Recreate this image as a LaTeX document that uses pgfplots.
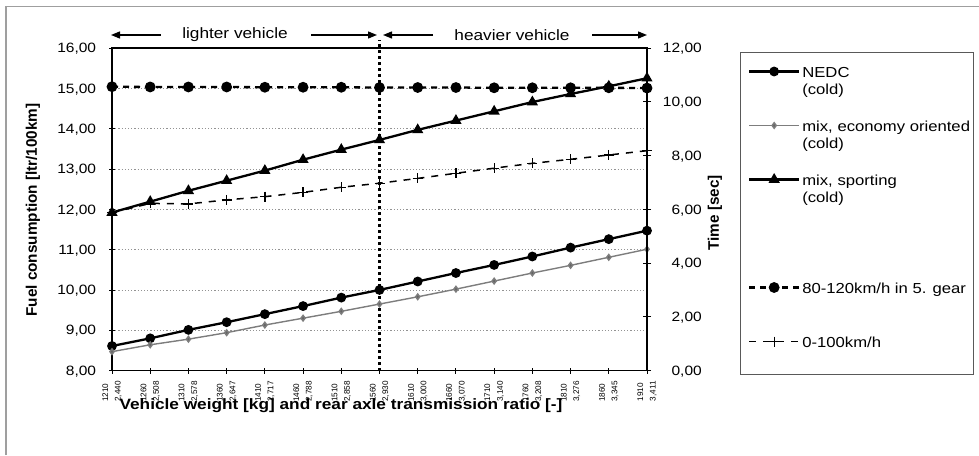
\documentclass[border=0pt]{standalone}
\usepackage{fontspec}
\setmainfont{Liberation Sans}[FakeStretch=1.15]
\newfontfamily\uprightsans{Liberation Sans}
\usepackage{pgfplots}
\usepackage{pgfplotstable}
\pgfplotsset{compat=1.18}
\usetikzlibrary{arrows.meta}

\newcommand\tickfont{\fontsize{13.5}{16}\selectfont}
\newcommand\xtickfont{\uprightsans\fontsize{8.2}{12.6}\selectfont}
\newcommand\legfont{\fontsize{14.5}{17}\selectfont}
\newcommand\notefont{\fontsize{15}{18}\selectfont}
\newcommand\titlefont{\bfseries\fontsize{15}{18}\selectfont}
\newcommand\vtitlefont{\uprightsans\bfseries\fontsize{15.3}{18}\selectfont}

% fuel consumption (ltr/100km) and acceleration times (sec) per vehicle variant
\pgfplotstableread{
idx nedc  eco   sport fifth accel
0   8.61  8.47  11.92 10.56 5.87
1   8.80  8.64  12.19 10.55 6.22
2   9.01  8.78  12.46 10.55 6.20
3   9.20  8.94  12.71 10.55 6.35
4   9.40  9.13  12.96 10.54 6.47
5   9.60  9.30  13.23 10.54 6.63
6   9.81  9.47  13.48 10.54 6.82
7   10.00 9.65  13.72 10.53 6.97
8   10.21 9.83  13.97 10.53 7.15
9   10.42 10.02 14.20 10.53 7.34
10  10.62 10.22 14.43 10.52 7.53
11  10.83 10.42 14.66 10.52 7.71
12  11.05 10.61 14.86 10.52 7.86
13  11.26 10.81 15.05 10.52 8.02
14  11.47 11.01 15.25 10.51 8.18
}\chartdata

\pgfplotsset{
  nedc/.style={black, line width=2.3pt, mark=*, mark size=3.7pt, mark options={solid}},
  eco/.style={color={rgb,255:red,125;green,125;blue,125}, line width=1.4pt, mark=diamond*, mark size=2.8pt, mark options={solid, fill={rgb,255:red,100;green,100;blue,100}}},
  sport/.style={black, line width=2.3pt, mark=triangle*, mark size=4.2pt, mark options={solid}},
  fifth/.style={black, line width=2.3pt, dash pattern=on 6pt off 5pt, mark=*, mark size=4.2pt, mark options={solid}},
  accel/.style={black, line width=1.5pt, dash pattern=on 7pt off 7pt, mark=+, mark size=5pt, mark options={solid, line width=1.3pt}},
  commonaxis/.style={
    at={(112pt,84.4pt)}, anchor=south west,
    scale only axis, width=535pt, height=322.6pt,
    xmin=0, xmax=14,
    tick align=center,
    tick style={black, line width=0.9pt},
    axis line style={black, line width=1.2pt},
    /pgf/number format/fixed,
    /pgf/number format/fixed zerofill,
    /pgf/number format/precision=2,
    /pgf/number format/use comma,
    /pgf/number format/assume math mode=true,
    clip=false,
  },
}

\begin{document}
\begin{tikzpicture}
\useasboundingbox (0pt,0pt) rectangle (979pt,455pt);
% page frame
\draw[gray!75, line width=1.4pt] (6pt,0pt) -- (6pt,448.5pt) -- (979pt,448.5pt);

% left axis: fuel consumption
\begin{axis}[
  commonaxis,
  ymin=8, ymax=16,
  xtick={0,...,14},
  xticklabels={{1210\\2,440},{1260\\2,508},{1310\\2,578},{1360\\2,647},{1410\\2,717},{1460\\2,788},{1510\\2,858},{1560\\2,930},{1610\\3,000},{1660\\3,070},{1710\\3,140},{1760\\3,208},{1810\\3,276},{1860\\3,345},{1910\\3,411}},
  ytick={8,...,16},
  tick pos=left,
  major tick length=6pt,
  ymajorgrids,
  grid style={gray!85, line width=0.8pt, dash pattern=on 1.2pt off 2pt},
  xticklabel style={font=\xtickfont, rotate=90, anchor=east, align=left, inner sep=0pt},
  xticklabel shift=7.5pt,
  yticklabel style={font=\tickfont, anchor=east, inner sep=0pt, text depth=0pt, xshift=-12.7pt},
]
% boundary between lighter and heavier variants
\draw[black, line width=2.4pt, dash pattern=on 2.4pt off 3.6pt] (axis cs:7,8) -- (axis cs:7,16.2);
\addplot[nedc] table[x=idx, y=nedc] {\chartdata};
\addplot[eco] table[x=idx, y=eco] {\chartdata};
\addplot[sport] table[x=idx, y=sport] {\chartdata};
\end{axis}

% right axis: time
\begin{axis}[
  commonaxis,
  ymin=0, ymax=12,
  axis x line=none,
  axis y line*=right,
  ytick={0,2,...,12},
  major tick length=8pt,
  yticklabel style={font=\tickfont, anchor=east, inner sep=0pt, text depth=0pt, xshift=51pt},
  legend style={at={(1.18879,0.94420)}, anchor=north west, draw=none, fill=none,
    inner sep=0pt, outer sep=0pt, row sep=12pt, column sep=2pt,
    cells={anchor=base west},
    nodes={inner sep=0pt, align=left, text height=28pt, text depth=14pt, font=\legfont}},
  legend image code/.code={\draw[mark repeat=2, mark phase=2, #1] plot coordinates {(0pt,22.5pt) (25pt,22.5pt) (50pt,22.5pt)};},
]
\addlegendimage{nedc}
\addlegendentry{NEDC\\(cold)}
\addlegendimage{eco}
\addlegendentry{mix, economy oriented\\(cold)}
\addlegendimage{sport}
\addlegendentry{mix, sporting\\(cold)}
\addlegendimage{empty legend}
\addlegendentry{}
\addplot[fifth] table[x=idx, y=fifth] {\chartdata};
\addlegendentry{80-120km/h in 5. gear\\\mbox{}}
\addplot[accel] table[x=idx, y=accel] {\chartdata};
\addlegendentry{0-100km/h\\\mbox{}}
\end{axis}

% legend frame
\draw[gray!70!black, line width=1pt] (740.7pt,80pt) rectangle (973pt,402.7pt);

% axis titles
\node[font=\titlefont] at (341pt,49pt) {Vehicle weight [kg] and rear axle transmission ratio [-]};
\node[font=\vtitlefont, rotate=90] at (33pt,245pt) {Fuel consumption [ltr/100km]};
\node[font=\vtitlefont, rotate=90] at (715pt,242.3pt) {Time [sec]};

% lighter / heavier annotation
\begin{scope}[line width=1.3pt, arrows={-Triangle[length=9pt,width=7pt]}]
\draw (160.5pt,420pt) -- (111pt,420pt);
\draw (311pt,420pt) -- (377pt,420pt);
\draw (433pt,420pt) -- (383pt,420pt);
\draw (592pt,420pt) -- (647pt,420pt);
\end{scope}
\node[font=\notefont] at (235pt,420pt) {lighter vehicle};
\node[font=\notefont] at (512pt,420pt) {heavier vehicle};
\end{tikzpicture}
\end{document}
